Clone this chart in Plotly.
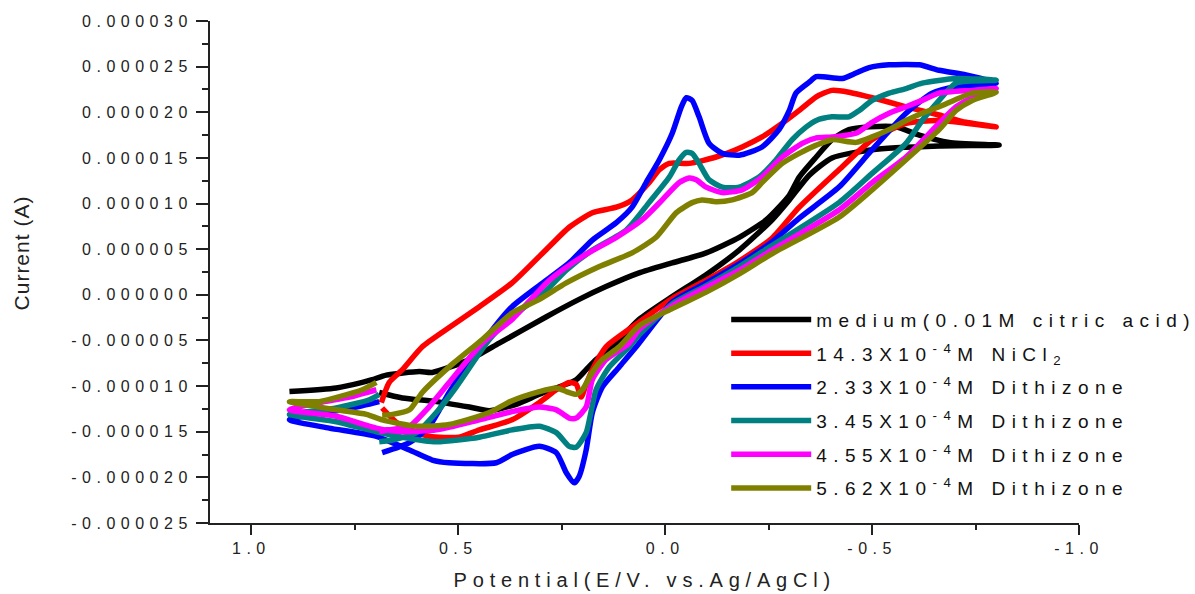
import plotly.graph_objects as go

# ---- data (potential in V, current in microamps) ----
E_medium = [0.691, 0.635, 0.553, 0.473, 0.425, 0.360, 0.304, 0.215, 0.191, 0.167, 0.128, 0.063, -0.017, -0.099, -0.179, -0.258, -0.300, -0.348, -0.403, -0.500, -0.662, -0.807,
            -0.686, -0.614, -0.558, -0.493, -0.444, -0.403, -0.365, -0.324, -0.300, -0.275, -0.244, -0.179, -0.099, -0.017, 0.063, 0.143, 0.208, 0.287, 0.401, 0.473, 0.563, 0.594, 0.674, 0.708, 0.732, 0.795, 0.908]
I_medium = [-10.7, -11.3, -11.7, -12.3, -12.7, -12.0, -10.9, -9.3, -8.2, -7.1, -5.7, -2.7, -0.2, 2.2, 4.9, 8.2, 10.4, 13.1, 15.0, 15.9, 16.3, 16.4,
            16.7, 17.5, 18.4, 18.4, 18.1, 17.0, 15.1, 12.9, 10.9, 9.6, 8.2, 6.3, 4.6, 3.5, 2.4, 0.9, -0.5, -2.4, -5.3, -7.1, -8.5, -8.4, -8.8, -9.3, -9.6, -10.2, -10.6]

E_nicl2 = [0.684, 0.643, 0.570, 0.498, 0.449, 0.370, 0.304, 0.263, 0.232, 0.215, 0.203, 0.191, 0.176, 0.143, 0.063, -0.017, -0.099, -0.179, -0.258, -0.324, -0.420, -0.500, -0.582, -0.662, -0.800,
           -0.727, -0.662, -0.582, -0.500, -0.444, -0.403, -0.365, -0.324, -0.283, -0.234, -0.186, -0.123, -0.058, -0.010, 0.014, 0.039, 0.080, 0.118, 0.176, 0.232, 0.280, 0.370, 0.449, 0.529, 0.587, 0.635, 0.667, 0.686]
I_nicl2 = [-12.4, -14.2, -15.5, -15.6, -14.8, -13.7, -11.8, -10.4, -9.6, -9.8, -11.2, -9.8, -8.2, -5.7, -3.0, -0.4, 1.6, 3.7, 6.2, 9.6, 13.7, 17.0, 18.8, 19.1, 18.4,
           18.9, 19.7, 20.6, 21.6, 22.2, 22.4, 21.7, 20.2, 18.8, 17.3, 16.2, 15.1, 14.4, 14.4, 13.7, 12.3, 10.4, 9.6, 9.0, 7.4, 5.3, 1.3, -1.3, -3.8, -5.7, -8.2, -9.6, -11.8]

E_dz233 = [0.691, 0.756, 0.836, 0.908, 0.812, 0.698, 0.618, 0.563, 0.522, 0.408, 0.370, 0.304, 0.263, 0.239, 0.220, 0.208, 0.191, 0.176, 0.152, 0.111, 0.070, -0.017, -0.099, -0.179, -0.258, -0.324, -0.420, -0.500, -0.582, -0.645, -0.703, -0.800,
           -0.727, -0.662, -0.614, -0.541, -0.493, -0.461, -0.428, -0.365, -0.348, -0.316, -0.300, -0.275, -0.234, -0.179, -0.138, -0.106, -0.082, -0.065, -0.051, -0.039, -0.017, 0.014, 0.046, 0.080, 0.118, 0.176, 0.232, 0.287, 0.370, 0.442, 0.522, 0.570, 0.618, 0.684]
I_dz233 = [-11.7, -12.4, -13.0, -13.7, -14.6, -15.5, -17.0, -18.1, -18.4, -18.4, -17.5, -16.6, -17.3, -19.5, -20.6, -19.9, -17.0, -12.9, -10.1, -7.9, -5.7, -0.8, 1.3, 3.4, 5.8, 8.4, 11.8, 15.9, 19.9, 22.1, 22.8, 23.2,
           24.1, 24.6, 25.2, 25.2, 24.9, 24.3, 23.7, 23.9, 23.3, 22.1, 20.2, 18.1, 16.2, 15.3, 15.5, 16.6, 19.5, 21.3, 21.6, 20.6, 17.7, 14.8, 12.3, 9.6, 7.9, 6.0, 3.5, 1.6, -1.3, -5.3, -10.7, -14.4, -16.2, -17.3]

E_dz345 = [0.691, 0.715, 0.795, 0.908, 0.795, 0.698, 0.635, 0.553, 0.449, 0.370, 0.304, 0.263, 0.232, 0.215, 0.191, 0.167, 0.135, 0.087, 0.063, -0.017, -0.099, -0.179, -0.258, -0.420, -0.500, -0.582, -0.621, -0.662, -0.703, -0.800,
           -0.703, -0.621, -0.582, -0.541, -0.500, -0.469, -0.444, -0.403, -0.365, -0.341, -0.307, -0.268, -0.227, -0.179, -0.138, -0.106, -0.082, -0.065, -0.051, -0.034, -0.010, 0.039, 0.094, 0.176, 0.239, 0.287, 0.370, 0.425, 0.505, 0.553, 0.601, 0.659, 0.691]
I_dz345 = [-10.9, -11.5, -12.4, -13.1, -13.9, -15.0, -15.6, -16.1, -15.6, -14.8, -14.4, -15.1, -16.6, -16.7, -15.1, -10.4, -7.9, -5.7, -4.4, -1.0, 1.0, 3.1, 5.4, 10.1, 13.3, 16.6, 19.1, 21.3, 23.2, 23.5,
           23.7, 23.2, 22.6, 22.1, 21.3, 20.2, 19.5, 19.5, 19.1, 18.4, 17.0, 14.8, 12.9, 11.8, 11.8, 12.6, 14.4, 15.5, 15.6, 14.8, 12.9, 10.1, 7.1, 4.9, 2.7, 0.5, -2.4, -4.9, -10.1, -12.9, -15.1, -15.9, -16.1]

E_dz455 = [0.698, 0.763, 0.836, 0.908, 0.795, 0.698, 0.635, 0.553, 0.449, 0.370, 0.304, 0.263, 0.232, 0.215, 0.191, 0.176, 0.143, 0.087, 0.063, -0.017, -0.099, -0.179, -0.258, -0.420, -0.500, -0.582, -0.662, -0.703, -0.742, -0.800,
           -0.742, -0.662, -0.621, -0.582, -0.541, -0.500, -0.461, -0.403, -0.365, -0.331, -0.283, -0.234, -0.186, -0.138, -0.099, -0.075, -0.058, -0.034, 0.007, 0.056, 0.118, 0.200, 0.280, 0.370, 0.442, 0.522, 0.577, 0.618, 0.667, 0.691]
I_dz455 = [-10.4, -11.2, -11.8, -12.6, -13.3, -14.6, -15.0, -14.8, -13.7, -12.8, -12.3, -12.6, -13.5, -13.5, -12.3, -9.3, -7.1, -5.3, -3.8, -1.2, 0.8, 2.7, 4.9, 9.3, 12.3, 15.1, 18.8, 20.6, 21.6, 22.6,
           22.4, 22.1, 21.3, 20.6, 19.9, 18.9, 17.7, 17.3, 17.2, 16.6, 15.1, 12.9, 11.5, 11.2, 11.8, 12.6, 12.8, 12.3, 10.4, 8.2, 6.3, 4.2, 1.6, -2.7, -5.3, -9.6, -12.6, -14.4, -14.8, -15.0]

E_dz562 = [0.698, 0.732, 0.836, 0.908, 0.795, 0.722, 0.684, 0.601, 0.522, 0.425, 0.370, 0.304, 0.263, 0.239, 0.215, 0.200, 0.176, 0.152, 0.111, 0.063, -0.017, -0.099, -0.179, -0.258, -0.420, -0.500, -0.582, -0.662, -0.703, -0.742, -0.800,
           -0.742, -0.662, -0.621, -0.582, -0.541, -0.500, -0.461, -0.403, -0.365, -0.324, -0.283, -0.234, -0.210, -0.162, -0.123, -0.089, -0.065, -0.027, 0.022, 0.080, 0.159, 0.239, 0.304, 0.370, 0.442, 0.522, 0.587, 0.618, 0.659, 0.684]
I_dz562 = [-9.6, -10.4, -11.7, -11.7, -12.6, -13.1, -13.7, -14.4, -14.2, -12.9, -11.6, -10.6, -10.2, -10.6, -10.9, -10.4, -8.5, -7.1, -5.7, -3.4, -1.5, 0.3, 2.3, 4.5, 8.5, 11.5, 14.8, 18.1, 20.2, 21.3, 22.2,
           22.1, 20.6, 19.9, 19.1, 18.1, 17.3, 16.7, 17.0, 16.4, 15.5, 14.4, 12.3, 11.2, 10.4, 10.2, 10.4, 10.1, 9.0, 6.3, 4.6, 3.1, 1.3, -0.5, -2.0, -4.9, -7.9, -10.7, -12.6, -13.1, -13.2]

series_names = [
    "medium(0.01M citric acid)",
    "14.3X10<sup>-4</sup>M NiCl<sub>2</sub>",
    "2.33X10<sup>-4</sup>M Dithizone",
    "3.45X10<sup>-4</sup>M Dithizone",
    "4.55X10<sup>-4</sup>M Dithizone",
    "5.62X10<sup>-4</sup>M Dithizone",
]
series_colors = ["#000000", "#FF0000", "#0000FF", "#008080", "#FF00FF", "#808000"]
series_E = [E_medium, E_nicl2, E_dz233, E_dz345, E_dz455, E_dz562]
series_I = [I_medium, I_nicl2, I_dz233, I_dz345, I_dz455, I_dz562]

x_tick_vals = [1.0, 0.5, 0.0, -0.5, -1.0]
x_tick_text = ["1.0", "0.5", "0.0", "-0.5", "-1.0"]
x_minor_vals = [0.75, 0.25, -0.25, -0.75]
y_tick_steps = list(range(-5, 7))          # multiples of 5e-6 A
y_minor_steps = [k + 0.5 for k in range(-5, 6)]

FONT = "Liberation Sans, Arial, sans-serif"
INK = "#222222"

fig = go.Figure()
for E, I, name, color in zip(series_E, series_I, series_names, series_colors):
    fig.add_trace(go.Scatter(
        x=E, y=[v * 1e-6 for v in I], mode="lines", name=name,
        legendgroup=name,
        line=dict(color=color, width=5.5, shape="spline", smoothing=0.6),
    ))

fig.update_layout(
    width=1195, height=594,
    margin=dict(l=210, r=116, t=21, b=71),
    paper_bgcolor="white", plot_bgcolor="white",
    font=dict(family=FONT, color=INK),
    showlegend=True,
    legend=dict(
        x=0.594, y=0.443, xanchor="left", yanchor="top",
        font=dict(family=FONT, size=19, color="#111111"),
        bgcolor="rgba(0,0,0,0)", borderwidth=0,
        tracegroupgap=6, itemwidth=80, traceorder="grouped",
    ),
    xaxis=dict(
        range=[1.10, -1.0], showgrid=False, zeroline=False,
        showline=True, linecolor=INK, linewidth=2, mirror=False,
        tickmode="array", tickvals=x_tick_vals, ticktext=x_tick_text,
        ticks="outside", ticklen=10, tickwidth=2, tickcolor=INK,
        tickfont=dict(family=FONT, size=16, color=INK),
        minor=dict(tickvals=x_minor_vals, ticks="outside", ticklen=5, tickwidth=2, tickcolor=INK),
    ),
    yaxis=dict(
        range=[-25e-6, 30e-6], showgrid=False, zeroline=False,
        showline=True, linecolor=INK, linewidth=2, mirror=False,
        tickmode="array", tickvals=[k * 5e-6 for k in y_tick_steps],
        ticktext=[f"{k * 5e-6:.6f}" for k in y_tick_steps],
        ticks="outside", ticklen=12, tickwidth=2, tickcolor=INK,
        tickfont=dict(family=FONT, size=16, color=INK),
        minor=dict(tickvals=[k * 5e-6 for k in y_minor_steps], ticks="outside", ticklen=6, tickwidth=2, tickcolor=INK),
    ),
    annotations=[
        dict(text="Potential(E/V. vs.Ag/AgCl)", xref="paper", yref="paper",
             x=0.50, y=-0.1135, xanchor="center", yanchor="middle", showarrow=False,
             font=dict(family=FONT, size=20, color=INK)),
        dict(text="Current (A)", xref="paper", yref="paper",
             x=-0.2163, y=0.538, xanchor="center", yanchor="middle", showarrow=False,
             textangle=-90, font=dict(family=FONT, size=21, color=INK)),
    ],
)

css = ("body{margin:0;padding:0;overflow:hidden}"
       ".xtick text,.ytick text{letter-spacing:5.5px}"
       ".legendtext{letter-spacing:6.5px}"
       ".legend .scrollbox{clip-path:none !important}"
       ".annotation[data-index='0'] text{letter-spacing:5.8px}"
       ".annotation[data-index='1'] text{letter-spacing:1px}")
post = "var s=document.createElement('style');s.textContent=\"" + css + "\";document.head.appendChild(s);"

fig.write_html("out.html", post_script=post, config={"displayModeBar": False})
